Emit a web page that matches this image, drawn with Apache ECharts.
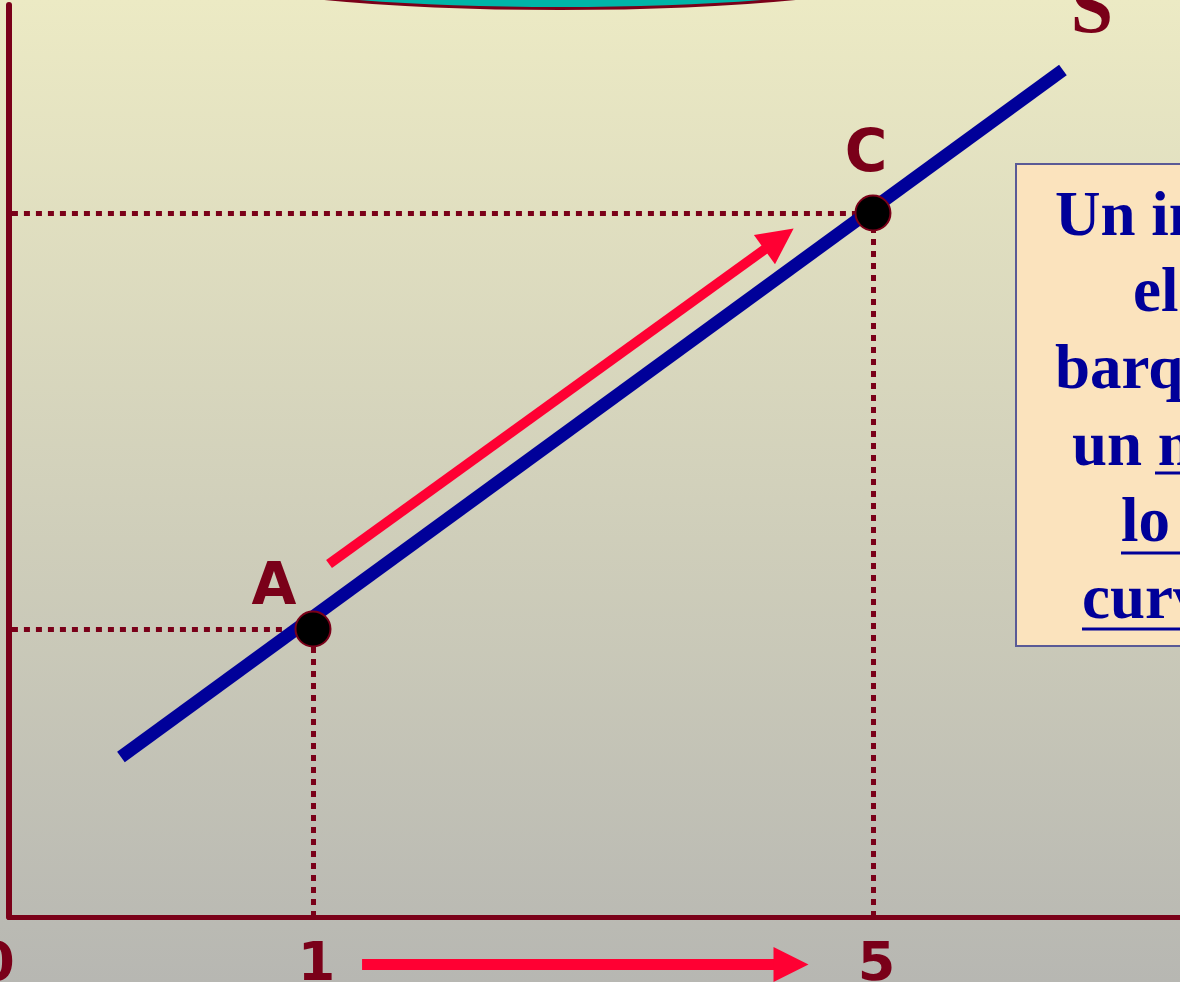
<!DOCTYPE html>
<html>
<head>
<meta charset="utf-8">
<style>
  html, body { margin: 0; padding: 0; background: #d4d3bc; }
  #chart { width: 1180px; height: 982px; }
</style>
<script src="https://cdn.jsdelivr.net/npm/echarts@6/dist/echarts.min.js"></script>
</head>
<body>
<div id="chart"></div>
<script>
// schematic units: both axes run 0..100
const xTickPos = [0, 25.96, 73.78];
const xTickLabels = ['0', '1', '5'];

const supplyLine = [[9.56, 17.54], [90.0, 92.87]]; // curva S
const pointNames = ['A', 'C'];
const pointValues = [[25.96, 31.58], [73.78, 77.19]];
const moveArrow = [[27.33, 38.71], [65.76, 74.34]];   // flecha a lo largo de S
const qtyArrow = [[30.15, -5.21], [66.78, -5.21]];   // flecha bajo el eje

const boxLines = ['Un incremento en', 'el precio de los', 'barquillos provoca', 'un movimiento a', 'lo largo de la', 'curva de oferta'];

const darkRed = '#7a0019';
const navy = '#000099';
const arrowRed = '#ff0033';

// lineas punteadas desde cada punto a los ejes
let guideData = [];
for (let p of pointValues) {
	guideData.push({ coords: [[0.25, p[1]], p] });
	guideData.push({ coords: [[p[0], 0], p] });
}

let pointData = pointValues.map((v, i) => ({ name: pointNames[i], value: v }));
let labelOffsets = [[-39, -40], [-7, -57]];

var dom = document.getElementById('chart');
var myChart = echarts.init(dom);

// texto del recuadro (cada linea alineada a la izquierda)
let lineStarts = [1055, 1133, 1055, 1072, 1121, 1082];
let baselines = [240, 316.6, 393.2, 469.8, 546.4, 623];
let boxText = boxLines.map((t, i) => ({
	type: 'text',
	z: 101,
	style: {
		text: t,
		x: lineStarts[i],
		y: baselines[i] - 53,
		font: 'bold 63px "Liberation Serif", "Times New Roman", serif',
		fill: navy
	}
}));
let underlines = [[1155, 473], [1121, 553], [1082, 629]].map(u => ({
	type: 'line',
	z: 101,
	shape: { x1: u[0], y1: u[1], x2: 1185, y2: u[1] },
	style: { stroke: navy, lineWidth: 3 }
}));

const tickFont = {
	color: darkRed,
	fontSize: 54,
	fontWeight: 'bold',
	fontFamily: '"DejaVu Sans", Verdana, sans-serif'
};

var option = {
	animation: false,
	graphic: [
		{
			type: 'rect',
			z: -10,
			silent: true,
			shape: { x: 0, y: 0, width: 1180, height: 982 },
			style: {
				fill: {
					type: 'linear', x: 0, y: 0, x2: 0, y2: 1,
					colorStops: [
						{ offset: 0, color: '#eceac4' },
						{ offset: 1, color: '#b7b7b2' }
					]
				}
			}
		},
		{
			type: 'ellipse',
			z: 100,
			shape: { cx: 560, cy: -44, rx: 400, ry: 52.5 },
			style: { fill: '#00b5a8', stroke: darkRed, lineWidth: 3 }
		},
		{
			type: 'rect',
			z: 100,
			shape: { x: 1016, y: 164, width: 220, height: 482 },
			style: { fill: '#fbe3bd', stroke: '#5a5a96', lineWidth: 2 }
		}
	].concat(boxText, underlines),
	grid: {
		left: 9,
		top: 5,
		right: 0,
		bottom: 65,
		containLabel: false,
		outerBoundsMode: 'none'
	},
	xAxis: {
		type: 'value',
		min: 0,
		max: 100,
		splitLine: { show: false },
		axisTick: { show: false },
		axisLine: { show: true, onZero: false, lineStyle: { color: darkRed, width: 5 } },
		axisLabel: Object.assign({
			customValues: xTickPos,
			margin: 22,
			formatter: function (v) {
				let i = xTickPos.indexOf(v);
				if (i === 0) return '{z|' + xTickLabels[0] + '}';
				return i >= 0 ? '{n|' + xTickLabels[i] + '}' : '';
			},
			rich: {
				z: Object.assign({ padding: [0, 26, 0, 0] }, tickFont),
				n: Object.assign({ padding: [0, 0, 0, 7] }, tickFont)
			}
		}, tickFont)
	},
	yAxis: {
		type: 'value',
		min: 0,
		max: 100,
		splitLine: { show: false },
		axisTick: { show: false },
		axisLabel: { show: false },
		axisLine: { show: true, onZero: false, lineStyle: { color: darkRed, width: 6 } }
	},
	series: [
		{
			type: 'lines',
			coordinateSystem: 'cartesian2d',
			z: 2,
			silent: true,
			lineStyle: { color: darkRed, width: 5, opacity: 1, type: [6, 6] },
			data: guideData
		},
		{
			type: 'line',
			z: 3,
			silent: true,
			showSymbol: false,
			lineStyle: { color: navy, width: 13 },
			data: supplyLine,
			markPoint: {
				symbol: 'circle',
				symbolSize: 0,
				label: {
					show: true,
					position: 'inside',
					offset: [29, -58],
					formatter: 'S',
					color: darkRed,
					fontSize: 76,
					fontWeight: 'bold',
					fontFamily: '"Liberation Serif", "Times New Roman", serif'
				},
				data: [{ coord: supplyLine[1] }]
			}
		},
		{
			type: 'lines',
			coordinateSystem: 'cartesian2d',
			z: 4,
			silent: true,
			clip: false,
			symbol: ['none', 'triangle'],
			symbolSize: [34, 36],
			lineStyle: { color: arrowRed, width: 10, opacity: 1 },
			data: [{ coords: moveArrow }, { coords: qtyArrow, lineStyle: { width: 11 }, symbolSize: [35, 35] }]
		},
		{
			type: 'scatter',
			z: 5,
			silent: true,
			symbolSize: 35,
			itemStyle: { color: '#000', borderColor: darkRed, borderWidth: 2, opacity: 1 },
			label: {
				show: true,
				position: 'inside',
				formatter: '{b}',
				color: darkRed,
				fontSize: 58,
				fontWeight: 'bold',
				fontFamily: '"DejaVu Sans", Verdana, sans-serif'
			},
			data: pointData.map((d, i) => Object.assign({}, d, { label: { offset: labelOffsets[i] } }))
		}
	]
};

if (option && typeof option === 'object') {
	myChart.setOption(option);
}
</script>
</body>
</html>
